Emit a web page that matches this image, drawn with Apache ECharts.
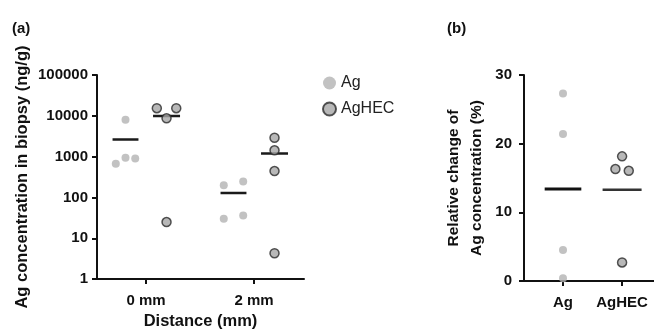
<!DOCTYPE html>
<html>
<head>
<meta charset="utf-8">
<script src="https://cdn.jsdelivr.net/npm/echarts@6/dist/echarts.min.js"></script>
<style>html,body{margin:0;padding:0;background:#fff}#c{width:654px;height:335px}</style>
</head>
<body>
<div id="c"></div>
<script>
// ---------- DATA ----------
const distanceCategories = ['0 mm', '2 mm'];
const agConc0mm = [8000, 670, 935, 900];
const agConc2mm = [200, 246, 30, 36];
const agHecConc0mm = [15400, 15400, 8700, 25];
const agHecConc2mm = [2900, 1430, 443, 4.3];
const logTickLabels = ['1', '10', '100', '1000', '10000', '100000'];

const changeCategories = ['Ag', 'AgHEC'];
const agChange = [27.3, 21.4, 4.5, 0.4];
const agHecChange = [18.15, 16.3, 16.05, 2.7];
const changeTicks = [0, 10, 20, 30];

// ---------- LAYOUT (horizontal spread of overlapping dots) ----------
const groupOffset = 0.19;
const jitterAg0 = [0, -0.09, 0, 0.09];
const jitterAg2 = [-0.09, 0.09, -0.09, 0.09];
const jitterHec0 = [-0.09, 0.09, 0, 0];
const jitterHec2 = [0, 0, 0, 0];
const jitterBAg = [0, 0, 0, 0];
const jitterBHec = [0, -0.113, 0.113, 0];

const mean = a => a.reduce((s, v) => s + v, 0) / a.length;
const pts = (vals, center, jit) => vals.map((v, i) => [center + jit[i], v]);
const meanLine = (vals, center, hw) => [[center - hw, mean(vals)], [center + hw, mean(vals)]];

const FONT = 'Liberation Sans, Arial, sans-serif';
const agStyle = { color: '#b3b3b3' };
const hecStyle = { color: '#a6a6a6', borderColor: '#2b2b2b', borderWidth: 1.5 };
const lineStyle = { color: '#1a1a1a', width: 2.5 };

const axisLine = { show: true, onZero: false, lineStyle: { color: '#111', width: 2 } };
const axisTick = { show: true, length: 5, lineStyle: { color: '#111', width: 2 } };

const chart = echarts.init(document.getElementById('c'));
chart.setOption({
  animation: false,
  textStyle: { fontFamily: FONT },
  title: [
    { text: '(a)', left: 7, top: 16, textStyle: { fontSize: 15, fontWeight: 'bold', color: '#111', fontFamily: FONT } },
    { text: '(b)', left: 442, top: 16, textStyle: { fontSize: 15, fontWeight: 'bold', color: '#111', fontFamily: FONT } }
  ],
  legend: {
    orient: 'vertical', left: 317, top: 70, itemGap: 10,
    itemWidth: 13, itemHeight: 13,
    data: ['Ag', 'AgHEC'],
    textStyle: { fontSize: 16, color: '#222', fontFamily: FONT, padding: [0, 0, 0, 0] }
  },
  grid: [
    { left: 97, top: 75, width: 207, height: 207 },
    { left: 524, top: 75, width: 130, height: 206 }
  ],
  xAxis: [
    {
      gridIndex: 0, type: 'value', min: -0.454, max: 1.463,
      splitLine: { show: false }, axisLine,
      axisTick: Object.assign({}, axisTick, { customValues: [0, 1] }),
      axisLabel: { customValues: [0, 1], formatter: v => distanceCategories[Math.round(v)], fontSize: 15, fontWeight: 'bold', color: '#111', margin: 14 },
      name: 'Distance (mm)', nameLocation: 'middle', nameGap: 33,
      nameTextStyle: { fontSize: 16.5, fontWeight: 'bold', color: '#111' }
    },
    {
      gridIndex: 1, type: 'value', min: -0.66, max: 1.54,
      splitLine: { show: false }, axisLine,
      axisTick: Object.assign({}, axisTick, { customValues: [0, 1] }),
      axisLabel: { customValues: [0, 1], formatter: v => changeCategories[Math.round(v)], fontSize: 15, fontWeight: 'bold', color: '#111', margin: 14 }
    }
  ],
  yAxis: [
    {
      gridIndex: 0, type: 'log', logBase: 10, min: 1, max: 100000,
      splitLine: { show: false }, axisLine, axisTick,
      minorTick: { show: false },
      axisLabel: { formatter: v => logTickLabels[Math.round(Math.log10(v))], fontSize: 15, fontWeight: 'bold', color: '#111', margin: 9 },
      name: 'Ag concentration in biopsy (ng/g)', nameLocation: 'middle', nameGap: 66, nameRotate: 90,
      nameTextStyle: { fontSize: 16.5, fontWeight: 'bold', color: '#111' }
    },
    {
      gridIndex: 1, type: 'value', min: 0, max: 30, interval: 10,
      splitLine: { show: false }, axisLine, axisTick,
      axisLabel: { formatter: v => changeTicks.includes(v) ? String(v) : '', fontSize: 15, fontWeight: 'bold', color: '#111', margin: 12 },
      name: 'Relative change of\nAg concentration (%)', nameLocation: 'middle', nameGap: 36, nameRotate: 90,
      nameTextStyle: { fontSize: 15.5, fontWeight: 'bold', color: '#111', lineHeight: 23 }
    }
  ],
  series: [
    { type: 'line', xAxisIndex: 0, yAxisIndex: 0, data: meanLine(agConc0mm, -groupOffset, 0.12), symbol: 'none', lineStyle, silent: true, z: 1 },
    { type: 'line', xAxisIndex: 0, yAxisIndex: 0, data: meanLine(agHecConc0mm, groupOffset, 0.125), symbol: 'none', lineStyle, silent: true, z: 1 },
    { type: 'line', xAxisIndex: 0, yAxisIndex: 0, data: meanLine(agConc2mm, 1 - groupOffset, 0.12), symbol: 'none', lineStyle, silent: true, z: 1 },
    { type: 'line', xAxisIndex: 0, yAxisIndex: 0, data: meanLine(agHecConc2mm, 1 + groupOffset, 0.125), symbol: 'none', lineStyle, silent: true, z: 1 },
    { type: 'line', xAxisIndex: 1, yAxisIndex: 1, data: meanLine(agChange, 0, 0.31), symbol: 'none', lineStyle: { color: '#111', width: 3 }, silent: true, z: 1 },
    { type: 'line', xAxisIndex: 1, yAxisIndex: 1, data: meanLine(agHecChange, 1, 0.33), symbol: 'none', lineStyle: { color: '#333', width: 2.5 }, silent: true, z: 1 },
    { name: 'Ag', type: 'scatter', xAxisIndex: 0, yAxisIndex: 0, symbolSize: 8, itemStyle: agStyle, z: 3,
      data: pts(agConc0mm, -groupOffset, jitterAg0).concat(pts(agConc2mm, 1 - groupOffset, jitterAg2)) },
    { name: 'AgHEC', type: 'scatter', xAxisIndex: 0, yAxisIndex: 0, symbolSize: 9, itemStyle: hecStyle, z: 3,
      data: pts(agHecConc0mm, groupOffset, jitterHec0).concat(pts(agHecConc2mm, 1 + groupOffset, jitterHec2)) },
    { name: 'Ag', type: 'scatter', xAxisIndex: 1, yAxisIndex: 1, symbolSize: 8, itemStyle: agStyle, z: 3,
      data: pts(agChange, 0, jitterBAg) },
    { name: 'AgHEC', type: 'scatter', xAxisIndex: 1, yAxisIndex: 1, symbolSize: 9, itemStyle: hecStyle, z: 3,
      data: pts(agHecChange, 1, jitterBHec) }
  ]
});
</script>
</body>
</html>
